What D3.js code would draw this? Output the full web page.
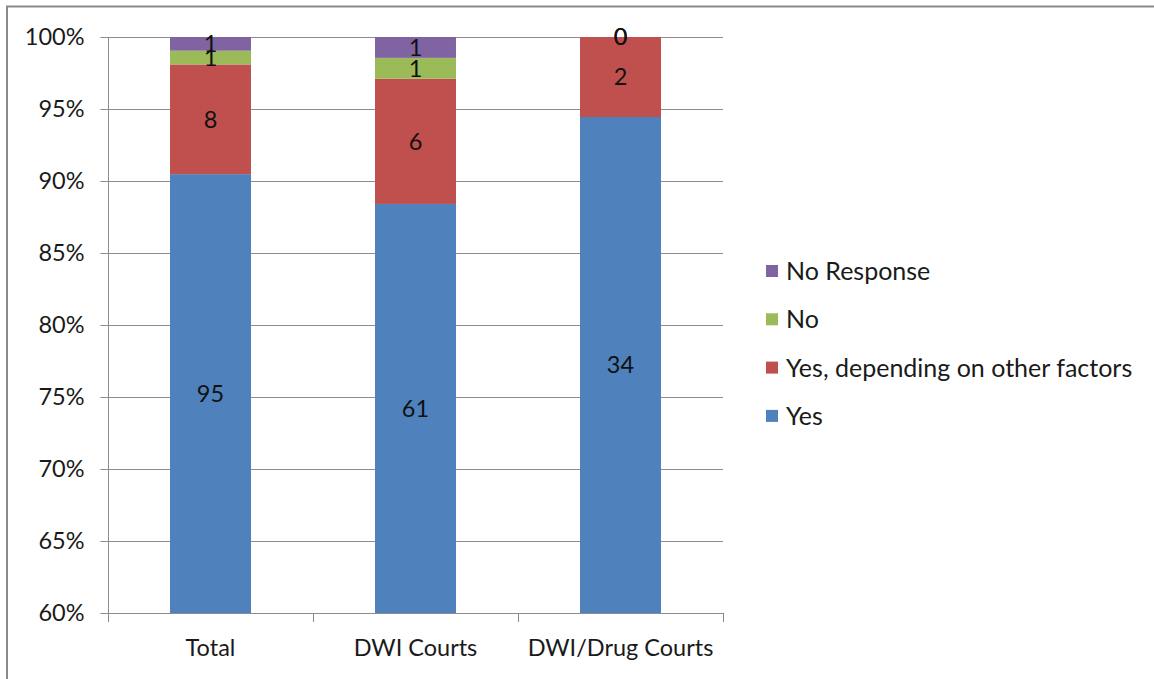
<!DOCTYPE html>
<html>
<head>
<meta charset="utf-8">
<script src="https://cdn.jsdelivr.net/npm/d3@7"></script>
<style>
html,body{margin:0;padding:0;background:#fff;}
svg{display:block;}
text{font-family:Lato,"Open Sans",sans-serif;}
</style>
</head>
<body>
<svg id="chart" width="1154" height="679"></svg>
<script>
const categories = ["Total", "DWI Courts", "DWI/Drug Courts"];
const seriesNames = ["Yes", "Yes, depending on other factors", "No", "No Response"];
const yesValues = [95, 61, 34];
const yesDependingValues = [8, 6, 2];
const noValues = [1, 1, 0];
const noResponseValues = [1, 1, 0];
const yTicks = [0.60, 0.65, 0.70, 0.75, 0.80, 0.85, 0.90, 0.95, 1.00];
const colors = ["#4F81BD", "#C0504D", "#9BBB59", "#8064A2"];

(function () {
const FS = 23.5;
const LFS = 25;
const seriesValues = [yesValues, yesDependingValues, noValues, noResponseValues];
const rows = categories.map((c, i) => {
  const r = {category: c};
  seriesNames.forEach((s, j) => r[s] = seriesValues[j][i]);
  return r;
});
const stacked = d3.stack().keys(seriesNames).offset(d3.stackOffsetExpand)(rows);

const svg = d3.select("#chart");
const pL = 108, pR = 723, pT = 37, pB = 613;

// outer frame
svg.append("rect").attr("x", 7).attr("y", 6.5).attr("width", 1200).attr("height", 700)
  .attr("fill", "none").attr("stroke", "#8a8a8a").attr("stroke-width", 2);

const x = d3.scaleBand().domain(categories).range([pL, pR]).padding(0);
const y = d3.scaleLinear().domain([0.6, 1]).range([pB, pT]);
const barW = x.bandwidth() * 0.395;

// gridlines
svg.append("g").selectAll("line").data(yTicks.slice(1)).join("line")
  .attr("x1", pL).attr("x2", pR)
  .attr("y1", d => Math.round(y(d)) + 0.5).attr("y2", d => Math.round(y(d)) + 0.5)
  .attr("stroke", "#8c8c8c").attr("stroke-width", 1);

svg.append("clipPath").attr("id", "plotclip").append("rect")
  .attr("x", pL).attr("y", pT).attr("width", pR - pL).attr("height", pB - pT);

// bars
const barsG = svg.append("g").attr("clip-path", "url(#plotclip)");
stacked.forEach((layer, j) => {
  barsG.append("g").attr("fill", colors[j]).selectAll("rect").data(layer).join("rect")
    .attr("x", d => x(d.data.category) + (x.bandwidth() - barW) / 2)
    .attr("width", barW)
    .attr("y", d => y(d[1]))
    .attr("height", d => Math.max(0, y(d[0]) - y(d[1])));
});

// data labels
const labG = svg.append("g");
stacked.forEach((layer, j) => {
  labG.selectAll(null).data(layer).join("text")
    .attr("x", d => x(d.data.category) + x.bandwidth() / 2)
    .attr("y", d => (y(Math.max(d[0], 0.6)) + y(d[1])) / 2)
    .attr("dy", "0.36em")
    .attr("text-anchor", "middle")
    .attr("font-size", FS)
    .attr("fill", "#111")
    .text(d => d.data[seriesNames[j]]);
});

// y axis
const yAxis = d3.axisLeft(y).tickValues(yTicks).tickFormat(d3.format(".0%")).tickSize(8).tickPadding(16);
const yg = svg.append("g").attr("transform", `translate(${pL + 0.5},0)`).call(yAxis);
yg.select(".domain").attr("stroke", "#8c8c8c").attr("d", `M0,${pT}V${pB}`);
yg.selectAll(".tick line").attr("stroke", "#8c8c8c");
yg.selectAll(".tick text").attr("font-size", FS).attr("fill", "#1a1a1a")
  .attr("font-family", "Lato, 'Open Sans', sans-serif");

// x axis
const xTickPositions = d3.range(categories.length + 1).map(i => pL + i * x.step());
const xg = svg.append("g");
xg.append("line").attr("x1", pL).attr("x2", pR).attr("y1", pB + 0.5).attr("y2", pB + 0.5)
  .attr("stroke", "#8c8c8c");
xg.selectAll("line.t").data(xTickPositions).join("line").attr("class", "t")
  .attr("x1", d => Math.round(d) + 0.5).attr("x2", d => Math.round(d) + 0.5)
  .attr("y1", pB).attr("y2", pB + 9).attr("stroke", "#8c8c8c");
xg.selectAll("text").data(categories).join("text")
  .attr("x", d => x(d) + x.bandwidth() / 2)
  .attr("y", 648).attr("dy", "0.36em")
  .attr("text-anchor", "middle").attr("font-size", FS).attr("fill", "#1a1a1a")
  .text(d => d);

// legend
const legendOrder = seriesNames.map((s, i) => ({name: s, color: colors[i]})).reverse();
const lg = svg.append("g");
const leg = lg.selectAll("g").data(legendOrder).join("g")
  .attr("transform", (d, i) => `translate(766, ${271 + i * 48.3})`);
leg.append("rect").attr("x", 0).attr("y", -6).attr("width", 12).attr("height", 12).attr("fill", d => d.color);
leg.append("text").attr("x", 20).attr("y", 0).attr("dy", "0.36em")
  .attr("font-size", LFS).attr("fill", "#1a1a1a").text(d => d.name);
})();
</script>
</body>
</html>
